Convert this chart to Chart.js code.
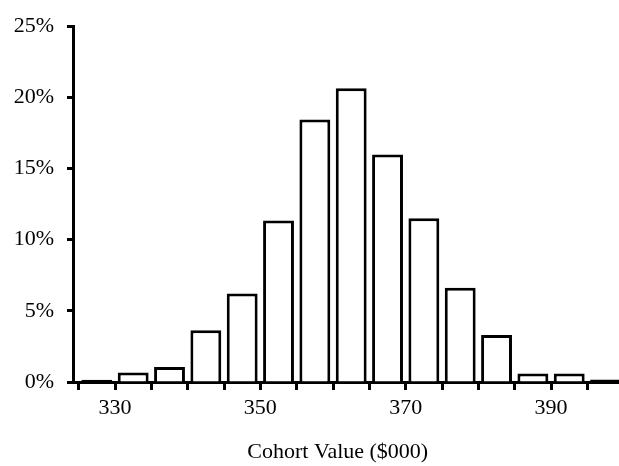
<!DOCTYPE html>
<html>
<head>
<meta charset="utf-8">
<script src="https://cdn.jsdelivr.net/npm/chart.js@4"></script>
<style>
  html, body { margin: 0; padding: 0; background: #fff; }
  #wrap { width: 619px; height: 466px; }
</style>
</head>
<body>
<div id="wrap"><canvas id="chart" width="619" height="466"></canvas></div>
<script>
// --- Data (bins of $5k, share of cohort in %) ---
const binCenters = [327.5, 332.5, 337.5, 342.5, 347.5, 352.5, 357.5, 362.5, 367.5, 372.5, 377.5, 382.5, 387.5, 392.5, 397.5];
const shares = [0.15, 0.67, 1.05, 3.63, 6.22, 11.34, 18.44, 20.64, 15.98, 11.5, 6.63, 3.31, 0.6, 0.6, 0.18];
const xTicks = [325, 330, 335, 340, 345, 350, 355, 360, 365, 370, 375, 380, 385, 390, 395];
const xLabels = [330, 350, 370, 390];
const yTicks = [0, 5, 10, 15, 20, 25];

const FONT = "'Liberation Serif', 'Times New Roman', serif";

const ctx = document.getElementById("chart").getContext("2d");

new Chart(ctx, {
  type: "bar",
  data: {
    datasets: [
      {
        data: binCenters.map((x, i) => ({ x: x, y: shares[i] })),
        backgroundColor: "#ffffff",
        borderColor: "#000000",
        borderWidth: 3,
        // tiny bins read as a solid line, the rest sit open on the axis
        borderSkipped: (c) => (shares[c.dataIndex] < 0.3 ? false : "start"),
        barPercentage: 0.85,
        categoryPercentage: 1,
      },
    ],
  },
  options: {
    responsive: false,
    devicePixelRatio: 1,
    animation: false,
    layout: { padding: { top: 19, left: 0, right: 0, bottom: 0 } },
    plugins: {
      legend: { display: false },
      tooltip: { enabled: false },
    },
    scales: {
      x: {
        type: "linear",
        min: 324.22,
        max: 399.35,
        offset: false,
        afterBuildTicks: (s) => { s.ticks = xTicks.map((v) => ({ value: v })); },
        afterFit: (s) => { s.height = 84; },
        grid: {
          display: true,
          offset: false,
          drawOnChartArea: false,
          drawTicks: true,
          tickLength: 8,
          tickWidth: 3,
          tickColor: "#000",
        },
        border: { display: true, color: "#000", width: 3 },
        ticks: {
          color: "#000",
          font: { family: FONT, size: 22 },
          padding: 5,
          maxRotation: 0,
          autoSkip: false,
          callback: (v) => (xLabels.includes(v) ? String(v) : ""),
        },
        title: {
          display: true,
          // trailing spaces nudge the centred title left, as in the original
          text: "Cohort Value ($000)\u2002\u00a0",
          color: "#000",
          font: { family: FONT, size: 22 },
          padding: { top: 0, bottom: 1 },
        },
      },
      y: {
        min: 0,
        max: 25,
        afterBuildTicks: (s) => { s.ticks = yTicks.map((v) => ({ value: v })); },
        afterFit: (s) => { s.width = 73; },
        grid: {
          drawOnChartArea: false,
          drawTicks: true,
          tickLength: 6,
          tickWidth: 3,
          tickColor: "#000",
        },
        border: { display: true, color: "#000", width: 3 },
        ticks: {
          color: "#000",
          font: { family: FONT, size: 22 },
          padding: 13,
          callback: (v) => v + "%",
        },
      },
    },
  },
});
</script>
</body>
</html>
